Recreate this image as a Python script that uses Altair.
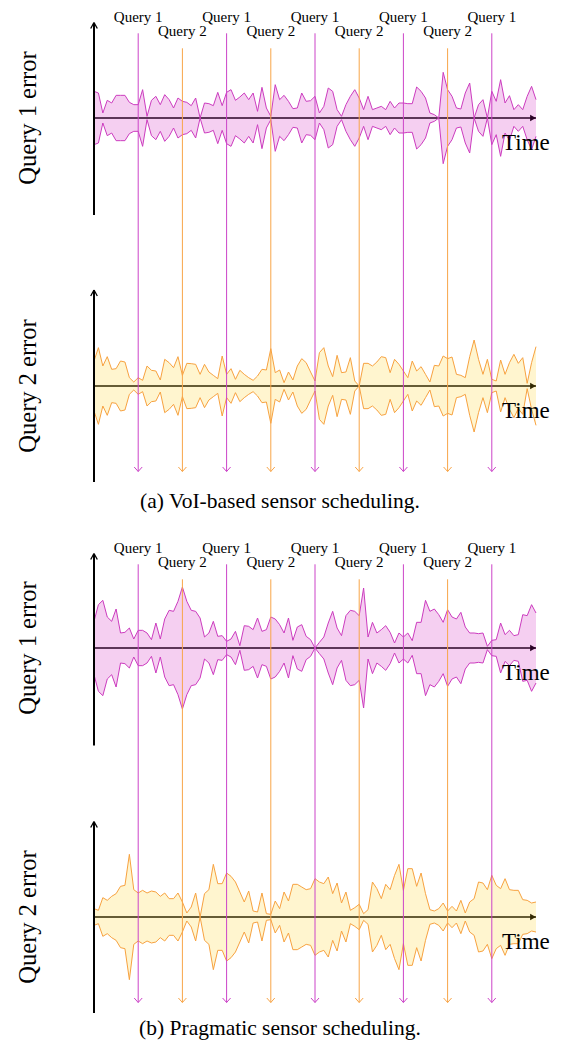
import altair as alt
import pandas as pd

# ---------------- data ----------------
T = list(range(101))
VOI_Q1 = [80, 75, 15, 53, 45, 68, 68, 68, 47, 40,
          40, 85, 5, 53, 65, 40, 70, 55, 30, 60,
          50, 47, 37, 60, 0, 45, 43, 37, 77, 37,
          77, 85, 53, 63, 75, 55, 75, 20, 92, 30,
          5, 100, 55, 68, 50, 28, 30, 75, 50, 52,
          65, 15, 35, 90, 80, 25, 5, 40, 65, 85,
          60, 25, 65, 25, 30, 35, 25, 50, 30, 45,
          45, 43, 43, 93, 80, 60, 15, 10, 0, 137,
          85, 65, 30, 27, 75, 105, 0, 40, 55, 0,
          80, 50, 115, 45, 67, 25, 40, 25, 65, 95,
          55]
VOI_Q2 = [75, 115, 60, 88, 50, 52, 75, 72, 25, 12,
          25, 17, 60, 47, 45, 18, 80, 70, 55, 88,
          32, 68, 67, 65, 35, 65, 42, 32, 22, 90,
          35, 52, 20, 47, 35, 25, 17, 30, 50, 48,
          112, 40, 48, 10, 42, 18, 60, 82, 70, 42,
          15, 100, 115, 60, 28, 92, 40, 42, 85, 15,
          0, 68, 68, 60, 72, 88, 85, 40, 80, 65,
          45, 25, 75, 45, 58, 35, 12, 62, 60, 90,
          82, 87, 35, 32, 25, 88, 138, 80, 35, 80,
          20, 15, 78, 35, 70, 95, 68, 85, 8, 70,
          118]
PRAG_Q1 = [80, 130, 143, 93, 80, 117, 45, 47, 60, 27,
           53, 53, 45, 25, 75, 27, 87, 113, 110, 140,
           183, 140, 113, 110, 90, 33, 45, 80, 35, 37,
           20, 27, 50, 7, 67, 65, 55, 90, 50, 55,
           93, 87, 70, 45, 90, 23, 63, 70, 35, 25,
           0, 17, 33, 75, 110, 60, 37, 97, 113, 110,
           97, 180, 33, 77, 45, 55, 67, 47, 15, 45,
           33, 45, 22, 77, 77, 143, 110, 117, 100, 77,
           115, 93, 87, 107, 63, 45, 45, 43, 45, 5,
           23, 25, 75, 40, 53, 37, 40, 100, 97, 130,
           105]
PRAG_Q2 = [25, 20, 58, 50, 62, 70, 92, 95, 188, 82,
           72, 80, 72, 78, 75, 62, 72, 55, 55, 72,
           45, 12, 30, 72, 0, 70, 82, 158, 100, 100,
           132, 122, 105, 75, 45, 78, 18, 15, 72, 10,
           8, 48, 25, 75, 48, 98, 98, 90, 82, 85,
           115, 105, 100, 120, 70, 102, 42, 75, 20, 28,
           38, 10, 22, 105, 85, 55, 98, 82, 125, 158,
           80, 145, 145, 92, 132, 70, 22, 18, 25, 42,
           18, 32, 18, 50, 12, 45, 55, 105, 102, 82,
           125, 95, 85, 115, 82, 80, 80, 52, 50, 42,
           45]
Q1_TIMES = [10, 30, 50, 70, 90]
Q2_TIMES = [20, 40, 60, 80]
Q_LABELS = ["Query 1", "Query 2"]
Y_TITLES = ["Query 1 error", "Query 2 error"]
X_LABEL = "Time"
CAPTIONS = ["(a) VoI-based sensor scheduling.", "(b) Pragmatic sensor scheduling."]

# ---------------- styling / layout ----------------
W, H = 548, 1032
X_RANGE = [86, 528]
SERIF = "Liberation Serif"
MAG_FILL, MAG_LINE, MAG_RULE = "#cc10b8", "#cc3cbf", "#cc44c8"
YEL_FILL, YEL_LINE, ORA_RULE = "#ffcc10", "#f7a240", "#f8a548"
SECTION_OFFSET = 531


def XF(field):
    return alt.X(field, scale=alt.Scale(domain=[0, 100], range=X_RANGE), axis=None)


def YF(field, base):
    return alt.Y(field, scale=alt.Scale(domain=[-300, 300], range=[base + 100, base - 100]),
                 axis=None)


AX = pd.DataFrame({"t0": [0], "t1": [100], "zero": [0]})


def wings(df, tip, dy, dx, col, sw):
    f = "t:Q" if "t" in df.columns else "t0:Q"
    out = []
    for s in (-1, 1):
        out.append(alt.Chart(df).mark_rule(color=col, strokeWidth=sw, xOffset=s * dx).encode(
            x=XF(f), x2=alt.X2(f), y=alt.value(tip + dy), y2=alt.value(tip)))
    return out


def panel_layers(values, fill, line, base, ytitle, ytop, ybot):
    df = pd.DataFrame({"t": T, "err": values, "neg": [-v for v in values]})
    L = []
    # time axis (drawn under the translucent envelope)
    L.append(alt.Chart(AX).mark_rule(color="black", strokeWidth=1.5).encode(
        x=XF("t0:Q"), x2="t1:Q", y=YF("zero:Q", base)))
    L.append(alt.Chart(AX).mark_point(shape="triangle-right", filled=True, size=45,
                                      color="black", opacity=1, xOffset=-3).encode(
        x=XF("t1:Q"), y=YF("zero:Q", base)))
    # envelope
    L.append(alt.Chart(df).mark_area(color=fill, opacity=0.2).encode(
        x=XF("t:Q"), y=YF("err:Q", base), y2="neg:Q"))
    L.append(alt.Chart(df).mark_line(color=line, strokeWidth=1).encode(
        x=XF("t:Q"), y=YF("err:Q", base)))
    L.append(alt.Chart(df).mark_line(color=line, strokeWidth=1).encode(
        x=XF("t:Q"), y=YF("neg:Q", base)))
    # value axis with open arrow head
    L.append(alt.Chart(AX).mark_rule(color="black", strokeWidth=2).encode(
        x=XF("t0:Q"), y=alt.value(ytop + 0.5), y2=alt.value(ybot)))
    L += wings(AX, ytop, 6, 3.3, "black", 1.3)
    # texts
    tx = pd.DataFrame({"yt": [ytitle], "xl": [X_LABEL]})
    L.append(alt.Chart(tx).mark_text(font=SERIF, fontSize=24.5, angle=270, align="center",
                                     baseline="middle", color="black").encode(
        x=alt.value(21), y=alt.value(base), text="yt:N"))
    L.append(alt.Chart(tx).mark_text(font=SERIF, fontSize=23, align="left",
                                     baseline="alphabetic", color="black").encode(
        x=alt.value(494), y=alt.value(base + 32), text="xl:N"))
    return L


def section_layers(o, caption, cap_y):
    q1 = pd.DataFrame({"t": Q1_TIMES, "lab": Q_LABELS[0]})
    q2 = pd.DataFrame({"t": Q2_TIMES, "lab": Q_LABELS[1]})
    tip = o + 463.5
    L = []
    for q, col, top, ly in ((q1, MAG_RULE, 25.3, 13.8), (q2, ORA_RULE, 40.3, 28.3)):
        L.append(alt.Chart(q).mark_rule(color=col, strokeWidth=1).encode(
            x=XF("t:Q"), y=alt.value(o + top), y2=alt.value(tip)))
        L += wings(q, tip, -4.5, 4, col, 1)
        L.append(alt.Chart(q).mark_text(font=SERIF, fontSize=15, baseline="alphabetic",
                                        color="black").encode(
            x=XF("t:Q"), y=alt.value(o + ly), text="lab:N"))
    cp = pd.DataFrame({"cap": [caption]})
    L.append(alt.Chart(cp).mark_text(font=SERIF, fontSize=21.5, align="center",
                                     baseline="alphabetic", color="black").encode(
        x=alt.value(272), y=alt.value(cap_y), text="cap:N"))
    return L


layers = []
layers += panel_layers(VOI_Q1, MAG_FILL, MAG_LINE, 110, Y_TITLES[0], 14.5, 207)
layers += panel_layers(VOI_Q2, YEL_FILL, YEL_LINE, 378, Y_TITLES[1], 282, 474)
layers += section_layers(0, CAPTIONS[0], 500)
layers += panel_layers(PRAG_Q1, MAG_FILL, MAG_LINE, 640, Y_TITLES[0], 545.5, 737.5)
layers += panel_layers(PRAG_Q2, YEL_FILL, YEL_LINE, 909, Y_TITLES[1], 813.5, 1005)
layers += section_layers(SECTION_OFFSET, CAPTIONS[1], 1026.5)

chart = alt.layer(*layers).resolve_scale(y="independent").properties(
    width=W, height=H, padding=0,
    autosize=alt.AutoSizeParams(type="none")).configure_view(strokeWidth=0)

chart.save("out.html", embed_options={"renderer": "svg", "actions": False})
